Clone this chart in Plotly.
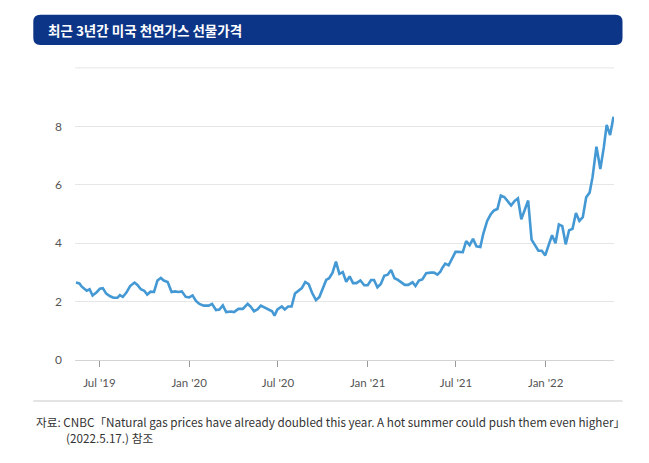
import plotly.graph_objects as go

title_text = "최근 3년간 미국 천연가스 선물가격"
source_line1 = "자료: CNBC「Natural gas prices have already doubled this year. A hot summer could push them even higher」"
source_line2 = "(2022.5.17.) 참조"

dates = [
    "2019-05-14", "2019-05-21", "2019-05-26", "2019-06-02", "2019-06-05", "2019-06-11", "2019-06-17", "2019-06-26",
    "2019-07-02", "2019-07-08", "2019-07-15", "2019-07-23", "2019-07-30", "2019-08-07", "2019-08-12", "2019-08-18",
    "2019-08-25", "2019-09-02", "2019-09-11", "2019-09-17", "2019-09-24", "2019-10-01", "2019-10-07", "2019-10-14",
    "2019-10-21", "2019-10-28", "2019-11-04", "2019-11-10", "2019-11-18", "2019-11-26", "2019-12-03", "2019-12-10",
    "2019-12-17", "2019-12-25", "2020-01-01", "2020-01-08", "2020-01-15", "2020-01-22", "2020-01-31", "2020-02-10",
    "2020-02-17", "2020-02-25", "2020-03-03", "2020-03-10", "2020-03-17", "2020-03-27", "2020-04-02", "2020-04-11",
    "2020-04-20", "2020-04-30", "2020-05-06", "2020-05-13", "2020-05-20", "2020-05-27", "2020-06-03", "2020-06-12",
    "2020-06-19", "2020-06-24",
    "2020-06-30", "2020-07-09", "2020-07-15", "2020-07-22", "2020-07-29", "2020-08-05", "2020-08-12", "2020-08-19",
    "2020-08-26", "2020-09-02", "2020-09-09", "2020-09-17", "2020-09-24", "2020-10-01", "2020-10-08", "2020-10-14",
    "2020-10-21", "2020-10-28", "2020-11-04", "2020-11-11", "2020-11-18", "2020-11-25", "2020-12-02", "2020-12-09",
    "2020-12-17", "2020-12-25", "2021-01-01", "2021-01-08", "2021-01-14", "2021-01-21", "2021-01-28", "2021-02-04",
    "2021-02-11", "2021-02-18", "2021-02-25", "2021-03-04", "2021-03-11", "2021-03-18", "2021-03-25", "2021-04-03",
    "2021-04-09", "2021-04-16", "2021-04-23", "2021-05-01", "2021-05-10", "2021-05-17", "2021-05-24", "2021-05-30",
    "2021-06-03",
    "2021-06-09", "2021-06-16", "2021-06-23", "2021-06-30", "2021-07-06", "2021-07-15", "2021-07-22", "2021-07-29",
    "2021-08-05", "2021-08-12", "2021-08-20", "2021-08-26", "2021-09-03", "2021-09-10", "2021-09-17", "2021-09-24",
    "2021-10-01", "2021-10-08", "2021-10-15", "2021-10-22", "2021-10-29", "2021-11-05", "2021-11-12", "2021-11-19",
    "2021-11-26", "2021-12-03", "2021-12-10", "2021-12-17", "2021-12-24", "2021-12-31", "2022-01-07", "2022-01-14",
    "2022-01-21", "2022-01-28", "2022-02-04", "2022-02-11", "2022-02-18", "2022-02-25", "2022-03-04", "2022-03-11",
    "2022-03-18", "2022-03-25", "2022-04-01", "2022-04-07", "2022-04-15", "2022-04-23", "2022-04-30", "2022-05-06",
    "2022-05-13", "2022-05-20",
]

prices = [
    2.65, 2.62, 2.51, 2.40, 2.37, 2.42, 2.21, 2.33,
    2.44, 2.46, 2.27, 2.18, 2.13, 2.13, 2.22, 2.16,
    2.30, 2.53, 2.65, 2.57, 2.42, 2.37, 2.24, 2.34,
    2.33, 2.72, 2.81, 2.72, 2.67, 2.33, 2.35, 2.33,
    2.35, 2.16, 2.14, 2.21, 2.02, 1.92, 1.86, 1.86,
    1.92, 1.71, 1.73, 1.87, 1.64, 1.66, 1.64, 1.75,
    1.75, 1.92, 1.83, 1.67, 1.73, 1.86, 1.80, 1.73,
    1.67, 1.52,
    1.73, 1.83, 1.73, 1.83, 1.83, 2.28, 2.37, 2.46,
    2.67, 2.60, 2.30, 2.05, 2.16, 2.42, 2.74, 2.80,
    2.99, 3.37, 2.95, 3.01, 2.68, 2.86, 2.63, 2.63,
    2.72, 2.56, 2.56, 2.74, 2.74, 2.49, 2.60, 2.88,
    2.92, 3.08, 2.80, 2.74, 2.65, 2.57, 2.57, 2.66,
    2.53, 2.72, 2.76, 2.97, 2.99, 2.99, 2.92, 3.02,
    3.15,
    3.30, 3.24, 3.47, 3.70, 3.70, 3.69, 4.07, 3.93,
    4.15, 3.89, 3.87, 4.32, 4.76, 4.98, 5.12, 5.17,
    5.63, 5.58, 5.44, 5.29, 5.44, 5.53, 4.82, 5.12,
    5.46, 4.12, 3.93, 3.74, 3.74, 3.58, 3.93, 4.27,
    4.00, 4.64, 4.58, 3.96, 4.44, 4.49, 5.03, 4.76,
    4.89, 5.57, 5.73, 6.26, 7.30, 6.54, 7.27, 8.05,
    7.70, 8.33,
]

x_tick_dates = ["2019-07-01", "2020-01-01", "2020-07-01", "2021-01-01", "2021-07-01", "2022-01-01"]
x_tick_labels = ["Jul '19", "Jan '20", "Jul '20", "Jan '21", "Jul '21", "Jan '22"]
y_tick_values = [0, 2, 4, 6, 8, 10]
y_tick_labels = ["0", "2", "4", "6", "8", ""]
y_top = 10

W, H = 649, 463
ML, MR, MT, MB = 75, 35, 67, 103
PW, PH = W - ML - MR, H - MT - MB


def px(x):
    return (x - ML) / PW


def py(y):
    return (H - MB - y) / PH


fig = go.Figure()
fig.add_trace(go.Scatter(
    x=dates, y=prices, mode="lines",
    line=dict(color="#4499d5", width=2.6),
    hoverinfo="skip", showlegend=False,
))

# top gridline (value 10)
fig.add_shape(type="line", xref="paper", yref="y", x0=0, x1=1, y0=y_top, y1=y_top,
              line=dict(color="#e6e6e6", width=1), layer="below")

# title bar with rounded corners
x0, x1 = px(33.3), px(622.5)
y0, y1 = py(45), py(14.7)
rx, ry = 7 / PW, 7 / PH
path = (f"M {x0+rx},{y1} L {x1-rx},{y1} Q {x1},{y1} {x1},{y1-ry} "
        f"L {x1},{y0+ry} Q {x1},{y0} {x1-rx},{y0} L {x0+rx},{y0} "
        f"Q {x0},{y0} {x0},{y0+ry} L {x0},{y1-ry} Q {x0},{y1} {x0+rx},{y1} Z")
fig.add_shape(type="path", path=path, xref="paper", yref="paper",
              fillcolor="#0c3587", line=dict(width=0), layer="above")

fig.add_annotation(text=title_text, xref="paper", yref="paper",
                   x=px(46), y=py(30), xanchor="left", yanchor="middle",
                   showarrow=False,
                   font=dict(family="Noto Sans CJK KR", size=13.5, color="white", weight="bold"))

# separator line above the source
fig.add_shape(type="line", xref="paper", yref="paper",
              x0=px(33.3), x1=px(622.5), y0=py(401), y1=py(401),
              line=dict(color="#c8c8c8", width=1))

fig.add_annotation(text=source_line1, xref="paper", yref="paper",
                   x=px(34), y=py(421), xanchor="left", yanchor="middle",
                   showarrow=False,
                   font=dict(family="Noto Sans CJK KR", size=11.7, color="#333333"))
fig.add_annotation(text=source_line2, xref="paper", yref="paper",
                   x=px(63.5), y=py(437.5), xanchor="left", yanchor="middle",
                   showarrow=False,
                   font=dict(family="Noto Sans CJK KR", size=11.7, color="#333333"))

fig.update_layout(
    width=W, height=H,
    margin=dict(l=ML, r=MR, t=MT, b=MB, pad=0),
    paper_bgcolor="white", plot_bgcolor="white",
    xaxis=dict(
        range=["2019-05-12", "2022-05-21"],
        tickmode="array", tickvals=x_tick_dates, ticktext=x_tick_labels,
        ticks="outside", ticklen=6, tickwidth=1, tickcolor="#999999",
        showgrid=False, zeroline=False,
        showline=True, linecolor="#d4d4d4", linewidth=1,
        tickfont=dict(family="Lato", size=11.5, color="#555555"),
        ticklabelstandoff=6,
        fixedrange=True,
    ),
    yaxis=dict(
        range=[0, 10.03],
        tickmode="array", tickvals=y_tick_values, ticktext=y_tick_labels,
        showgrid=True, gridcolor="#e6e6e6", gridwidth=1,
        zeroline=False, showline=False, ticks="",
        tickfont=dict(family="Lato", size=12, color="#555555"),
        ticklabelstandoff=12,
        fixedrange=True,
    ),
)

fig.write_html("out.html", config={"displayModeBar": False},
               post_script="document.body.style.margin='0px';")
